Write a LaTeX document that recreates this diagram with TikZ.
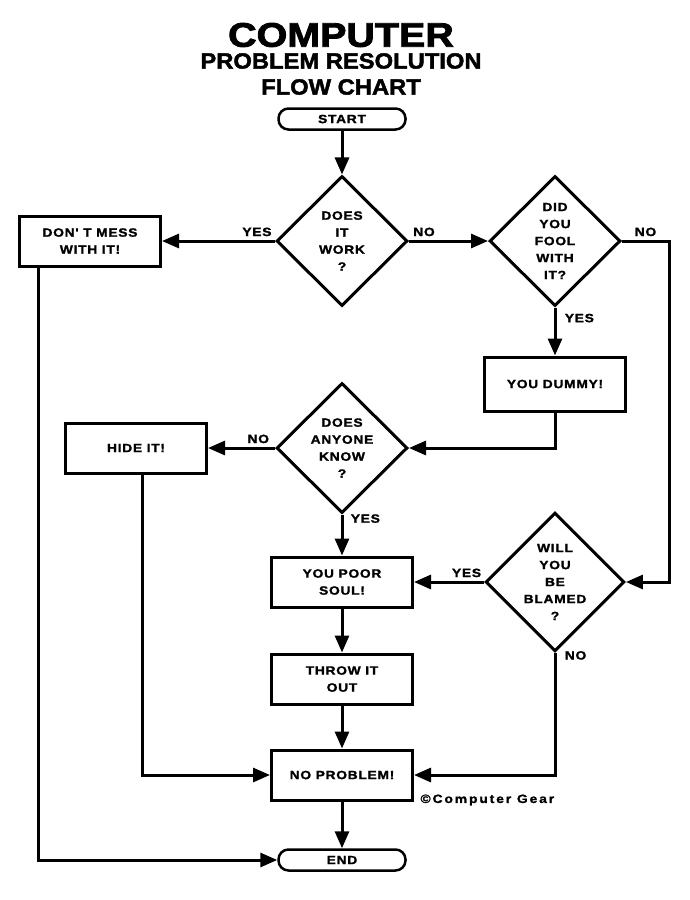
\documentclass[tikz,border=0pt]{standalone}
\usepackage{fontspec}
\setmainfont{Liberation Sans}
\newfontfamily\chartfont{Liberation Sans}[FakeStretch=1.15,LetterSpace=6,FakeBold=1.5]
\newfontfamily\headfont{Liberation Sans}[FakeStretch=1.08,FakeBold=2]
\newfontfamily\bigheadfont{Liberation Sans}[FakeStretch=1.16,FakeBold=2.5]
\usetikzlibrary{arrows.meta,shapes.geometric,positioning}

\begin{document}
\begin{tikzpicture}[
  x=1pt,y=-1pt,
  every node/.style={font=\chartfont\bfseries\fontsize{12}{17}\selectfont},
  procbox/.style={draw,line width=3pt,minimum width=141pt,minimum height=50pt,
                  align=center,inner sep=2pt},
  decide/.style={draw,diamond,aspect=1,line width=3pt,minimum width=131pt,
                 minimum height=130pt,align=center,inner sep=0pt},
  termbox/.style={draw,line width=2.5pt,rounded corners=10pt,minimum width=127pt,
                  minimum height=21pt,inner sep=0pt},
  titletext/.style={font=\headfont\bfseries\fontsize{#1}{#1}\selectfont,inner sep=0pt},
  arr/.style={line width=3pt,-{Triangle[length=17pt,width=14pt]}},
]
  \path[use as bounding box,fill=white] (0,0) rectangle (690,900);

  % Title
  \node[titletext=34,font=\bigheadfont\bfseries\fontsize{34}{34}\selectfont] (t1) at (341,35) {COMPUTER};
  \node[titletext=22] (t2) at (341,61) {PROBLEM RESOLUTION};
  \node[titletext=22] (t3) at (341,87) {FLOW CHART};

  % Start / end
  \node[termbox] (start) at (342,119) {START};
  \node[termbox] (end) at (342,860) {END};

  % Questions
  \node[decide] (work) at (342,241) {DOES\\IT\\WORK\\?};
  \node[decide] (fool) at (555,241) {DID\\YOU\\FOOL\\WITH\\IT?};
  \node[decide] (know) at (342,448) {DOES\\ANYONE\\KNOW\\?};
  \node[decide] (blamed) at (555,582) {WILL\\YOU\\BE\\BLAMED\\?};

  % Boxes
  \node[procbox] (dontmess) at (90,241) {DON' T MESS\\WITH IT!};
  \node[procbox,minimum height=54pt] (dummy) at (555,384) {YOU DUMMY!};
  \node[procbox] (hide) at (136,448) {HIDE IT!};
  \node[procbox] (poorsoul) at (342,582) {YOU POOR\\SOUL!};
  \node[procbox] (throwout) at (342,679) {THROW IT\\OUT};
  \node[procbox] (noproblem) at (342,775) {NO PROBLEM!};

  % Connectors
  \draw[arr] (start) -- (work);
  \draw[arr] (work) -- node[pos=0.16,above] {YES} (dontmess);
  \draw[arr] (work) -- node[pos=0.19,above] {NO} (fool);
  \draw[arr] (fool.east) -- node[above] {NO} ++(47,0) |- (blamed.east);
  \draw[arr] (fool) -- node[pos=0.22,right,xshift=5pt] {YES} (dummy);
  \draw[arr] (dummy.south) |- (know.east);
  \draw[arr] (know) -- node[pos=0.25,above] {NO} (hide);
  \draw[arr] (know) -- node[pos=0.1,right,xshift=4pt] {YES} (poorsoul);
  \draw[arr] (blamed) -- node[pos=0.25,above] {YES} (poorsoul);
  \draw[arr] (blamed.south) |- node[pos=0.01,right,xshift=5pt] {NO} (noproblem.east);
  \draw[arr] (poorsoul) -- (throwout);
  \draw[arr] (throwout) -- (noproblem);
  \draw[arr] (noproblem) -- (end);
  \draw[arr] ([xshift=6pt]hide.south) |- (noproblem.west);
  \draw[arr] ([xshift=-52pt]dontmess.south) |- (end.west);

  % Credit
  \node[anchor=west,font=\chartfont\bfseries\fontsize{12}{14}\selectfont\addfontfeature{LetterSpace=16}] (credit) at (417,800) {©Computer Gear};
\end{tikzpicture}
\end{document}
